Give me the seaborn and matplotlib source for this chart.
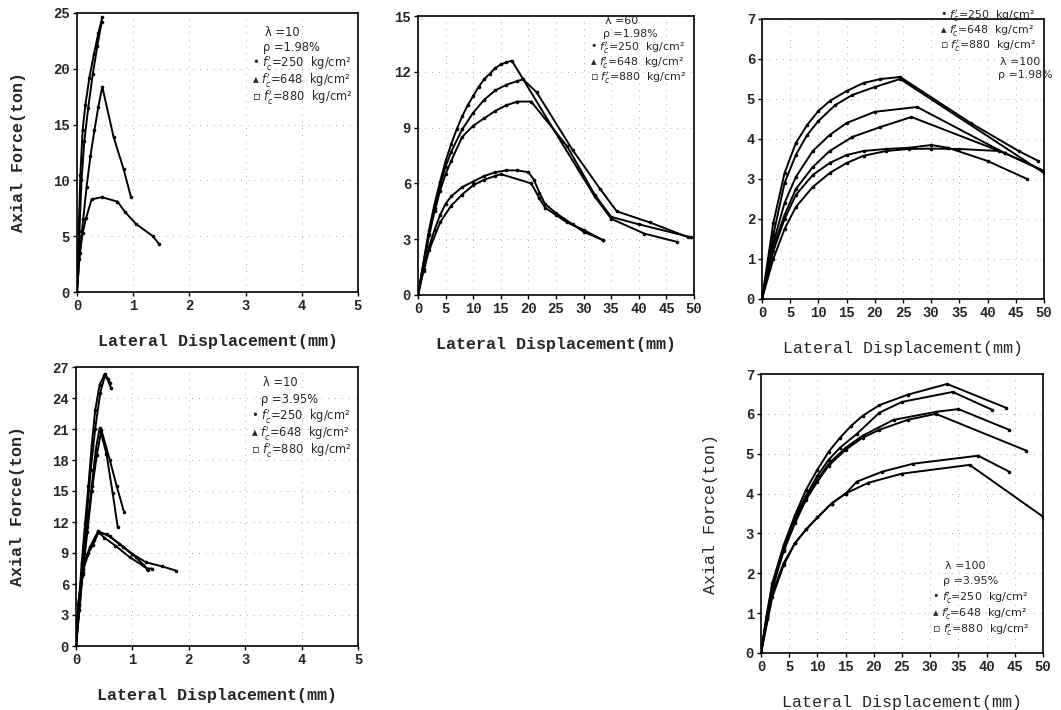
import matplotlib
matplotlib.use("Agg")
import matplotlib.pyplot as plt
import seaborn as sns

# ---- panel 1: lambda=10, rho=1.98% ----
p1_a_x = [0, 0.03, 0.06, 0.1, 0.15, 0.22, 0.3, 0.38, 0.45]
p1_a_y = [0, 5.5, 10.5, 14.5, 16.8, 19.2, 21.3, 23.2, 24.6]
p1_b_x = [0, 0.04, 0.08, 0.13, 0.2, 0.28, 0.36, 0.44]
p1_b_y = [0, 5.0, 10.0, 13.5, 16.5, 19.5, 22.0, 24.2]
p1_c_x = [0, 0.05, 0.11, 0.17, 0.24, 0.31, 0.38, 0.45, 0.65, 0.83, 0.96]
p1_c_y = [0, 3.5, 6.5, 9.4, 12.2, 14.5, 16.6, 18.4, 13.9, 11.0, 8.5]
p1_d_x = [0, 0.04, 0.1, 0.16, 0.26, 0.44, 0.72, 0.85, 1.05, 1.35, 1.46]
p1_d_y = [0, 3.0, 5.3, 6.6, 8.3, 8.5, 8.1, 7.2, 6.1, 5.0, 4.3]

# ---- panel 2: lambda=60, rho=1.98% ----
p2_a_x = [0, 1, 2, 3, 4, 5, 6, 7, 8, 9, 10, 11, 12, 13, 14, 15, 16, 17, 26, 32, 35, 41, 47]
p2_a_y = [0, 1.8, 3.5, 4.9, 6.1, 7.2, 8.1, 8.9, 9.6, 10.2, 10.7, 11.2, 11.6, 11.9, 12.2, 12.4, 12.5, 12.6,
          8.2, 5.3, 4.1, 3.3, 2.85]
p2_b_x = [0, 1, 2, 3, 4, 5, 6, 8, 10, 12, 14, 16, 18, 19, 21.5, 28, 33, 36, 42, 49]
p2_b_y = [0, 1.7, 3.3, 4.7, 5.9, 6.9, 7.7, 8.9, 9.8, 10.5, 11.0, 11.3, 11.5, 11.6, 10.9, 7.8, 5.7, 4.5, 3.9, 3.1]
p2_c_x = [0, 1, 2, 3, 4, 5, 6, 8, 10, 12, 14, 16, 18, 20.5, 27, 32, 35, 40, 49.5]
p2_c_y = [0, 1.6, 3.2, 4.5, 5.6, 6.5, 7.2, 8.5, 9.1, 9.5, 9.9, 10.2, 10.4, 10.4, 8.0, 5.4, 4.2, 3.8, 3.1]
p2_d_x = [0, 1, 2, 3, 4, 5, 6, 8, 10, 12, 14, 16, 18, 20, 21, 22, 23, 25, 28, 30, 33.5]
p2_d_y = [0, 1.4, 2.6, 3.5, 4.3, 4.9, 5.3, 5.8, 6.1, 6.4, 6.6, 6.7, 6.7, 6.6, 6.2, 5.5, 4.9, 4.4, 3.8, 3.4, 2.95]
p2_e_x = [0, 1, 2, 4, 6, 8, 10, 12, 14, 15, 20.5, 22, 23, 25, 27, 30, 33.5]
p2_e_y = [0, 1.3, 2.4, 3.9, 4.8, 5.4, 5.9, 6.2, 6.4, 6.5, 6.0, 5.2, 4.7, 4.3, 3.9, 3.5, 2.95]

# ---- panel 3: lambda=100, rho=1.98% ----
p3_a_x = [0, 2, 4, 6, 8, 10, 12, 15, 18, 21, 24.5, 37, 45.5, 49]
p3_a_y = [0, 1.9, 3.15, 3.9, 4.35, 4.7, 4.95, 5.2, 5.4, 5.5, 5.55, 4.4, 3.7, 3.45]
p3_b_x = [0, 2, 4, 6, 8, 10, 13, 16, 20, 24.5, 50]
p3_b_y = [0, 1.6, 2.9, 3.6, 4.1, 4.45, 4.85, 5.1, 5.3, 5.5, 3.15]
p3_c_x = [0, 2, 4, 6, 9, 12, 15, 20, 27.5, 43, 50]
p3_c_y = [0, 1.4, 2.4, 3.05, 3.7, 4.1, 4.4, 4.68, 4.8, 3.65, 3.2]
p3_d_x = [0, 2, 4, 6, 9, 12, 16, 21, 26.5, 43, 50]
p3_d_y = [0, 1.3, 2.1, 2.75, 3.3, 3.7, 4.05, 4.3, 4.55, 3.65, 3.2]
p3_e_x = [0, 2, 4, 6, 9, 12, 15, 18, 22, 26, 30, 33, 40, 47]
p3_e_y = [0, 1.2, 2.0, 2.6, 3.1, 3.4, 3.6, 3.7, 3.75, 3.78, 3.85, 3.78, 3.45, 3.0]
p3_f_x = [0, 2, 4, 6, 9, 12, 15, 18, 22, 26, 30, 35, 42]
p3_f_y = [0, 1.0, 1.75, 2.3, 2.8, 3.15, 3.4, 3.58, 3.7, 3.75, 3.76, 3.75, 3.7]

# ---- panel 4: lambda=10, rho=3.95% ----
p4_a_x = [0, 0.05, 0.1, 0.16, 0.22, 0.28, 0.34, 0.42, 0.5, 0.56, 0.62]
p4_a_y = [0, 4.0, 8.0, 11.8, 15.5, 19.5, 22.8, 25.3, 26.2, 25.8, 25.0]
p4_b_x = [0, 0.06, 0.12, 0.19, 0.26, 0.34, 0.43, 0.52, 0.6]
p4_b_y = [0, 4.0, 8.0, 12.5, 17.0, 21.0, 24.5, 26.3, 25.5]
p4_c_x = [0, 0.06, 0.12, 0.2, 0.28, 0.35, 0.42, 0.54, 0.65, 0.74]
p4_c_y = [0, 3.5, 7.5, 11.5, 15.5, 19.0, 21.1, 18.6, 14.8, 11.5]
p4_d_x = [0, 0.06, 0.12, 0.2, 0.28, 0.37, 0.45, 0.6, 0.72, 0.85]
p4_d_y = [0, 3.5, 7.0, 11.0, 15.0, 18.5, 20.9, 18.0, 15.5, 13.0]
p4_e_x = [0, 0.04, 0.1, 0.16, 0.25, 0.39, 0.6, 0.83, 1.06, 1.26, 1.34]
p4_e_y = [0, 4.0, 6.8, 8.3, 9.6, 11.1, 10.6, 9.6, 8.6, 7.5, 7.5]
p4_f_x = [0, 0.05, 0.12, 0.2, 0.3, 0.4, 0.55, 0.77, 1.0, 1.24, 1.53, 1.77]
p4_f_y = [0, 4.5, 7.5, 8.8, 9.8, 11.0, 10.8, 9.9, 8.9, 8.1, 7.7, 7.3]
p4_g_x = [0, 0.05, 0.12, 0.22, 0.32, 0.4, 0.5, 0.7, 0.95, 1.18, 1.28]
p4_g_y = [0, 4.2, 7.2, 9.0, 10.3, 11.0, 10.5, 9.7, 8.6, 7.8, 7.4]

# ---- panel 5: lambda=100, rho=3.95% ----
p5_a_x = [0, 1, 2, 4, 6, 8, 10, 12, 14, 16, 18, 21, 26, 33, 43.5]
p5_a_y = [0, 0.95, 1.75, 2.7, 3.45, 4.1, 4.6, 5.05, 5.4, 5.7, 5.95, 6.22, 6.48, 6.75, 6.15]
p5_b_x = [0, 1, 2, 4, 6, 8, 10, 12, 14, 17, 21, 25, 34, 41]
p5_b_y = [0, 0.9, 1.7, 2.65, 3.4, 3.95, 4.45, 4.85, 5.15, 5.5, 6.03, 6.3, 6.55, 6.1]
p5_c_x = [0, 1, 2, 4, 6, 8, 10, 12, 15, 18, 23.5, 31, 35, 44]
p5_c_y = [0, 0.9, 1.65, 2.6, 3.3, 3.9, 4.35, 4.75, 5.15, 5.45, 5.85, 6.05, 6.12, 5.6]
p5_d_x = [0, 1, 2, 4, 6, 8, 10, 12, 15, 18, 21, 26, 31, 47]
p5_d_y = [0, 0.85, 1.6, 2.55, 3.25, 3.85, 4.3, 4.7, 5.1, 5.4, 5.6, 5.85, 6.0, 5.08]
p5_e_x = [0, 2, 4, 6, 8, 10, 12.5, 15, 17, 21.5, 27, 38.5, 44]
p5_e_y = [0, 1.5, 2.25, 2.75, 3.1, 3.4, 3.75, 4.0, 4.3, 4.55, 4.75, 4.95, 4.55]
p5_f_x = [0, 2, 4, 6, 8, 10, 12.5, 15, 19, 25, 37, 50]
p5_f_y = [0, 1.4, 2.2, 2.75, 3.1, 3.4, 3.75, 4.0, 4.27, 4.5, 4.72, 3.42]

fc_labels = ["250", "648", "880"]
fc_marks = ["•", "▴", "▫"]

W, H = 1061, 710

sns.set_style("ticks")
plt.rcParams["font.family"] = ["Liberation Mono", "DejaVu Sans"]

fig = plt.figure(figsize=(W / 100, H / 100), dpi=100)


def px_axes(left, top, right, bottom):
    return fig.add_axes([left / W, 1 - bottom / H, (right - left) / W, (bottom - top) / H])


def px_text(x, y, s, size=8.3):
    fig.text(x / W, 1 - y / H, s, fontsize=size, family=["DejaVu Sans"], va="center", ha="left")


def draw_panel(ax, curves, xmax, xstep, ymax, ystep, ylabel, bold_labels):
    for cx, cy in curves:
        sns.lineplot(x=cx, y=cy, ax=ax, color="black", linewidth=1.4, marker="o",
                     markersize=2.6, markeredgewidth=0, sort=False, estimator=None)
    ax.set_xlim(0, xmax)
    ax.set_ylim(0, ymax)
    xt = [i * xstep for i in range(int(round(xmax / xstep)) + 1)]
    yt = [i * ystep for i in range(int(round(ymax / ystep)) + 1)]
    ax.set_xticks(xt)
    ax.set_yticks(yt)
    ax.set_xticklabels([f"{v:g}" for v in xt], fontweight="bold", fontsize=10)
    ax.set_yticklabels([f"{v:g}" for v in yt], fontweight="bold", fontsize=10)
    ax.tick_params(direction="out", length=3, width=1, pad=2, color="black")
    ax.grid(True, linestyle=(0, (1, 6)), color="#aaaaaa", linewidth=0.7)
    for s in ax.spines.values():
        s.set_linewidth(1.2)
        s.set_color("black")
        s.set_visible(True)
    wt = "bold" if bold_labels else "normal"
    ax.set_xlabel("Lateral Displacement(mm)", fontsize=12, fontweight=wt, labelpad=15)
    if ylabel:
        ax.set_ylabel("Axial Force(ton)", fontsize=12, fontweight=wt, labelpad=20)
    else:
        ax.set_ylabel("")


def legend_block(x_f, ys_f, x_head, ys_head, lam, rho, size=8.3):
    px_text(x_head, ys_head[0], f"λ ={lam}", size)
    px_text(x_head - 2, ys_head[1], f"ρ ={rho}", size)
    for m, v, yy in zip(fc_marks, fc_labels, ys_f):
        px_text(x_f, yy, f"{m} $f_c'$=" + f"{v}  kg/cm²", size)


ax1 = px_axes(77, 13, 358, 292)
draw_panel(ax1, [(p1_a_x, p1_a_y), (p1_b_x, p1_b_y), (p1_c_x, p1_c_y), (p1_d_x, p1_d_y)],
           5, 1, 25, 5, True, True)
legend_block(252, [63, 80, 97], 265, [32, 47], "10", "1.98%")

ax2 = px_axes(418, 16, 694, 295)
draw_panel(ax2, [(p2_a_x, p2_a_y), (p2_b_x, p2_b_y), (p2_c_x, p2_c_y), (p2_d_x, p2_d_y),
                 (p2_e_x, p2_e_y)], 50, 5, 15, 3, False, True)
legend_block(590, [48, 63, 78], 605, [21, 34], "60", "1.98%", size=7.9)

ax3 = px_axes(762, 19, 1044, 299)
draw_panel(ax3, [(p3_a_x, p3_a_y), (p3_b_x, p3_b_y), (p3_c_x, p3_c_y), (p3_d_x, p3_d_y),
                 (p3_e_x, p3_e_y), (p3_f_x, p3_f_y)], 50, 5, 7, 1, False, False)
legend_block(940, [16, 31, 46], 1000, [62, 75], "100", "1.98%", size=7.9)

ax4 = px_axes(76, 367, 358, 646)
draw_panel(ax4, [(p4_a_x, p4_a_y), (p4_b_x, p4_b_y), (p4_c_x, p4_c_y), (p4_d_x, p4_d_y),
                 (p4_e_x, p4_e_y), (p4_f_x, p4_f_y), (p4_g_x, p4_g_y)], 5, 1, 27, 3, True, True)
legend_block(251, [416, 433, 450], 263, [383, 399], "10", "3.95%")

ax5 = px_axes(761, 374, 1043, 653)
draw_panel(ax5, [(p5_a_x, p5_a_y), (p5_b_x, p5_b_y), (p5_c_x, p5_c_y), (p5_d_x, p5_d_y),
                 (p5_e_x, p5_e_y), (p5_f_x, p5_f_y)], 50, 5, 7, 1, True, False)
legend_block(932, [598, 614, 630], 945, [566, 581], "100", "3.95%", size=8)

fig.savefig("out.png", dpi=100, facecolor="white")
